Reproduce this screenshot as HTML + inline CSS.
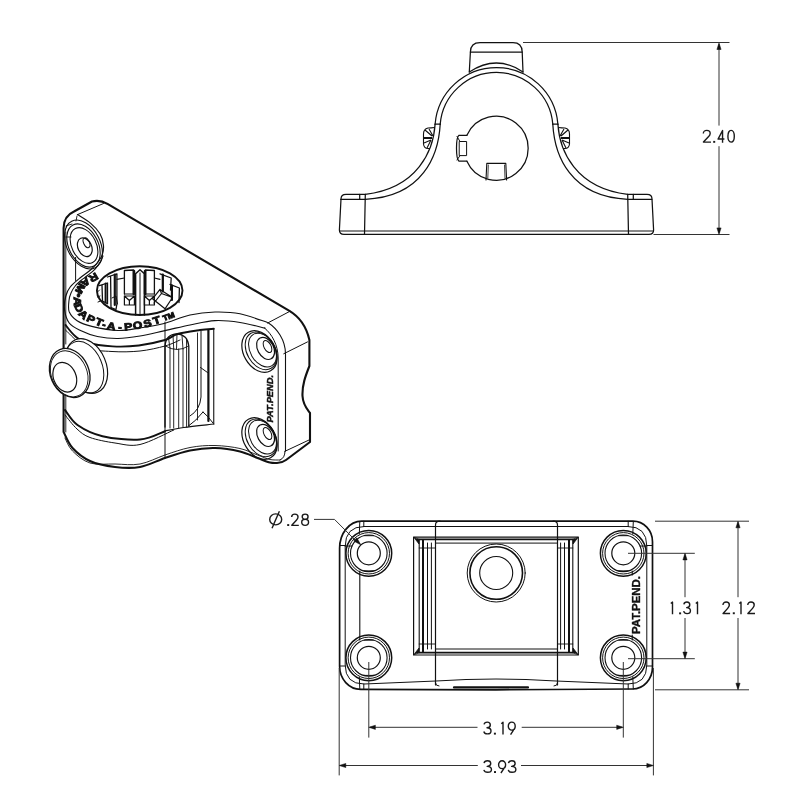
<!DOCTYPE html>
<html><head><meta charset="utf-8">
<style>
html,body{margin:0;padding:0;background:#fff;}
svg{display:block;filter:grayscale(1);}
text{font-family:"Liberation Sans",sans-serif;}
</style></head><body>
<svg width="800" height="800" viewBox="0 0 800 800">
<g fill="none" stroke="#111" stroke-width="1.25" stroke-linecap="round" stroke-linejoin="round">
<!-- cap -->
<path d="M469.3 72 L470.4 52 Q470.6 42.7 480 42.7 L513 42.7 Q522 42.7 522.2 52 L523 72"/>
<path d="M470.4 52 L522.2 52"/>
<path d="M469.3 72 Q496.5 54 523 72"/>
<!-- outer ring arc -->
<path d="M435.1 124.2 A61.6 61.6 0 0 1 557.9 124.2"/>
<path d="M440.2 124.2 A56.5 56.5 0 0 1 552.8 124.2"/>
<!-- concave lower -->
<path d="M435.1 124.2 C433.5 150 418 188 365.3 194.3"/>
<path d="M440.2 124.2 C438.5 155 423 197 365.3 199.3"/>
<path d="M557.9 124.2 C559.5 150 575 188 627.7 194.3"/>
<path d="M552.8 124.2 C554.5 155 570 197 627.7 199.3"/>
<path d="M435.1 124.2 L440.2 124.2 M552.8 124.2 L557.9 124.2"/>
<!-- base -->
<path d="M365.3 194.3 L346 194.3 Q341 194.3 341 199 L339.4 230 Q339.4 234.4 344 234.4 L649 234.4 Q653.6 234.4 653.6 230 L652 199 Q652 194.3 647 194.3 L627.7 194.3"/>
<path d="M340.7 199.3 L365.3 199.3 M627.7 199.3 L651.8 199.3"/>
<path d="M359.7 194.3 L359.7 199.3 M633.3 194.3 L633.3 199.3"/>
<path d="M365.3 194.3 L364.5 234.4 M627.7 194.3 L628.5 234.4"/>
<path d="M339.6 231 L653.4 231" stroke-width="1.0"/>
<!-- hole -->
<path d="M466.9 135.3 A32 32 0 1 1 466.9 161.2"/>
<path d="M466.9 135.3 L459 135.3 Q456.5 137 456.5 148.2 Q456.5 159.5 459 161.2 L466.9 161.2"/>
<path d="M459.6 141.5 L466.6 141.5 L466.6 155.6 L459.6 155.6 Z" stroke-width="1"/>
<path d="M457 136.5 L460 141.5 M457 160 L460 155.6" stroke-width="1"/>
<path d="M486 180 L486.8 163.4 L505.8 163.4 L506.6 180" stroke-width="1.1"/>
<path d="M487.8 178 L488.3 165 M504.5 165 L505 178" stroke-width="0.8"/>
</g>
<!-- knobs -->
<g fill="none" stroke="#111" stroke-width="1.1" stroke-linejoin="round">
<path d="M434.5 127.5 Q431 128 428 128 Q423.5 129 423.5 134 L423.5 144 Q424 148.5 428 148.5 L430 148.5"/>
<path d="M424 137.5 L432 137.5 M424 138.5 L432 138.5 M425 130 L432 136 M429 129 L433 136 M424 143 L431 140 M427 148 L431 140"/>
<path d="M558.5 127.5 Q562 128 565 128 Q569.5 129 569.5 134 L569.5 144 Q569 148.5 565 148.5 L563 148.5"/>
<path d="M569 137.5 L561 137.5 M569 138.5 L561 138.5 M568 130 L561 136 M564 129 L560 136 M569 143 L562 140 M566 148 L562 140"/>
</g>
<g fill="none" stroke="#333" stroke-width="1">
<path d="M523 42.5 L729.5 42.5 M653.5 234.5 L729.5 234.5"/>
<path d="M719 44 L719 125.6 M719 146.2 L719 233"/>
</g>
<g fill="#111" stroke="#111" stroke-width="0.5" stroke-linejoin="round">
<path d="M719.00 42.90 L716.90 49.50 L721.10 49.50 Z"/>
<path d="M719.00 234.50 L721.10 227.90 L716.90 227.90 Z"/>
</g>

<defs>
<g id="bolt">
<circle r="11.5" stroke-width="1.2"/>
<circle r="18.3" stroke-width="1.1"/>
<circle r="20.7" stroke-width="1.0"/>
<circle r="22.9" stroke-width="1.5"/>
<path d="M-5 -17.6 L5 -17.6 M-5 17.6 L5 17.6" stroke-width="1.0"/>
</g>
</defs>
<g fill="none" stroke="#111" stroke-width="1.2" stroke-linecap="round" stroke-linejoin="round">
<!-- outer outline -->
<path d="M361.6 521.2 L633 521.2 A19.5 20.5 0 0 1 652.5 541.7 L652.5 667 A20 22 0 0 1 632.5 689 L496 689.8 L360.6 689.3 A21 23 0 0 1 339.6 666.3 L339.6 548.2 A22 27 0 0 1 361.6 521.2 Z" stroke-width="1.7"/>
<!-- inner outline -->
<path d="M363.8 526.5 L628.2 526.5"/>
<path d="M345.2 546 Q345.2 526.5 364 526.5 M345.2 546 L345.2 665 Q345.2 684 364 684 L436 681 Q496 677 556 681 L628 684 Q646.8 684 646.8 665 L646.8 546 Q646.8 526.5 628 526.5" stroke-width="1"/>
<path d="M363.8 521.2 L363.8 526.5 M628.2 521.2 L628.2 526.5 M345.2 546 L352 546 M646.8 546 L640 546 M363.8 684 L363.8 689 M628.2 684 L628.2 689" stroke-width="1"/>
<path d="M359.8 571 L359.8 640 M632.2 571 L632.2 575 M632.2 635 L632.2 640" stroke-width="1.1"/>
<path d="M359.3 534 L359.8 521.5 M632.8 534 L633.3 521.5 M359.3 677 L359.8 689 M632.8 677 L633.3 689 M340.3 545.5 L345.2 545.5 M646.8 545.5 L652 545.5 M340.3 666 L345.2 666 M646.8 666 L652 666" stroke-width="1.0"/>
<!-- center band -->
<path d="M435.5 685 L435.5 525 Q435.5 521.2 440 521.2 M557.5 685 L557.5 525 Q557.5 521.2 553 521.2"/>
<path d="M435.5 683 Q435.5 686 439 686 M557.5 683 Q557.5 686 554 686" stroke-width="1"/>
<path d="M454 687.4 L528 687.4" stroke-width="2.2"/>
<!-- rectangles -->
<path d="M413.6 537.1 L578.3 537.1 L578.3 655 L413.6 655 Z"/>
<path d="M419.2 539.4 L572.8 539.4 M419.2 652.6 L572.8 652.6" stroke-width="1.9"/>
<path d="M435.5 543.1 L557.5 543.1 M435.5 649 L557.5 649" stroke-width="1"/>
<path d="M419.2 539.4 L419.2 652.6 M572.8 539.4 L572.8 652.6" stroke-width="1.1"/>
<path d="M423 540 L423 652 M569 540 L569 652" stroke-width="2"/>
<path d="M427.5 543 L427.5 649 M431.4 543 L431.4 649 M564.5 543 L564.5 649 M560.6 543 L560.6 649" stroke-width="1"/>
<path d="M419.2 548 L435.5 548 M419.2 644 L435.5 644 M557.5 548 L572.8 548 M557.5 644 L572.8 644" stroke-width="0.9"/>
<path d="M414 537.5 L419 544 L419 539.4 Z M578 537.5 L573 544 L573 539.4 Z M414 654.5 L419 648 L419 652.6 Z M578 654.5 L573 648 L573 652.6 Z" fill="#111" stroke-width="0.8"/>
<!-- center circles -->
<circle cx="496.2" cy="573" r="29" stroke-width="1"/>
<circle cx="496.2" cy="573" r="26.3" stroke-width="1.6"/>
<circle cx="496.2" cy="573" r="16.5" stroke-width="1.1"/>
</g>
<g fill="none" stroke="#111">
<use href="#bolt" x="368.8" y="553.3"/>
<use href="#bolt" x="368.8" y="657.8"/>
<use href="#bolt" x="623.3" y="553.3"/>
<use href="#bolt" x="623.3" y="657.8"/>
</g>
<!-- dims -->
<g fill="none" stroke="#333" stroke-width="1">
<path d="M314 519.4 L334.5 519.4 L356 541"/>
<path d="M368.8 662 L368.8 737.6 M623.3 662 L623.3 737.6"/>
<path d="M339.2 668 L339.2 775.4 M653.4 668 L653.4 775.4"/>
<path d="M370 727.3 L477.5 727.3 M521.7 727.3 L622 727.3"/>
<path d="M340.4 765.5 L477.8 765.5 M521 765.5 L652.2 765.5"/>
<path d="M628 553.3 L694.8 553.3 M628 658.7 L694.8 658.7"/>
<path d="M685 554.5 L685 597.2 M685 618 L685 657.5"/>
<path d="M655 521.2 L749 521.2 M655 689.8 L749 689.8"/>
<path d="M738 522.4 L738 597.2 M738 618 L738 688.6"/>
</g>
<g fill="#111" stroke="#111" stroke-width="0.5" stroke-linejoin="round">
<path d="M361.00 545.00 L356.77 537.86 L353.72 541.02 Z"/>
<path d="M368.80 727.30 L375.40 729.40 L375.40 725.20 Z"/>
<path d="M623.30 727.30 L616.70 725.20 L616.70 729.40 Z"/>
<path d="M339.20 765.50 L345.80 767.60 L345.80 763.40 Z"/>
<path d="M653.40 765.50 L646.80 763.40 L646.80 767.60 Z"/>
<path d="M685.00 553.30 L682.90 559.90 L687.10 559.90 Z"/>
<path d="M685.00 658.70 L687.10 652.10 L682.90 652.10 Z"/>
<path d="M738.00 521.20 L735.90 527.80 L740.10 527.80 Z"/>
<path d="M738.00 689.80 L740.10 683.20 L735.90 683.20 Z"/>
</g>
<text transform="translate(639.8,605) rotate(-90)" font-size="11.4" font-weight="bold" text-anchor="middle" fill="#111" stroke="#111" stroke-width="0.35" textLength="58" lengthAdjust="spacingAndGlyphs">PAT.PEND.</text>

<g fill="none" stroke="#111" stroke-linecap="round" stroke-linejoin="round">
<path d="M63.6 432 L63.6 228 Q63.8 216 74 211.5 L92 201.5 Q100 199.5 107.5 203.9 L289 310.6 Q305 320 309.4 340 L309.4 366 C305.5 376 302 385 302.5 396 C303 405 307 409 310 413 L310 442 L286 460 Q282 463 277 463  C275.8 462.9 273.2 463.3 270.0 462.5 C266.8 461.7 262.5 459.8 257.5 458.0 C252.5 456.2 247.1 453.2 240.0 451.5 C232.9 449.8 223.3 448.2 215.0 448.0 C206.7 447.8 198.3 448.8 190.0 450.5 C181.7 452.2 173.3 455.2 165.0 458.0 C156.7 460.8 148.3 465.5 140.0 467.0 C131.7 468.5 123.3 468.0 115.0 467.0 C106.7 466.0 97.1 464.2 90.0 461.0 C82.9 457.8 76.9 452.8 72.5 448.0 C68.1 443.2 65.1 434.7 63.6 432.0" stroke-width="2.1" />
<path d="M65.8 232 L65.8 344 M65.8 394 L65.8 432" stroke-width="0.9" />
<path d="M77.5 214.6 L103.5 203.5" stroke-width="1.0" />
<path d="M77.5 214.6 C79.8 216.1 87.2 220.4 91.0 223.6 C94.8 226.8 97.9 230.2 100.0 233.8 C102.1 237.3 103.0 241.5 103.4 245.0 C103.8 248.5 103.2 252.1 102.2 255.0 C101.3 257.9 99.5 260.0 97.5 262.5 C95.5 265.0 93.4 267.4 90.5 270.0 C87.6 272.6 83.4 275.2 80.0 278.0 C76.6 280.8 72.6 284.0 70.2 287.0 C67.8 290.0 66.8 292.2 65.8 296.0 C64.8 299.8 63.9 305.0 64.5 309.5 C65.1 314.0 66.6 319.5 69.2 323.0 C71.9 326.5 75.8 328.2 80.5 330.5 C85.2 332.8 91.2 335.2 97.4 336.5 C103.7 337.8 110.9 338.6 118.0 338.5 C125.1 338.4 132.2 337.3 140.0 336.0 C147.8 334.7 156.7 332.4 165.0 330.6 C173.3 328.8 181.7 326.7 190.0 325.0 C198.3 323.3 206.7 321.0 215.0 320.6 C223.3 320.2 231.7 321.2 240.0 322.5 C248.3 323.8 260.8 327.2 265.0 328.1" stroke-width="1.2" />
<path d="M103.0 256.0 C102.6 256.8 102.1 258.9 100.8 261.0 C99.5 263.1 97.5 266.4 95.3 268.8 C93.1 271.2 90.3 273.3 87.8 275.3 C85.3 277.3 82.5 279.1 80.3 281.0 C78.1 282.9 76.3 284.5 74.8 286.5 C73.2 288.5 72.0 290.7 71.0 293.0 C70.0 295.3 69.3 297.4 69.0 300.5 C68.7 303.6 67.9 308.4 69.2 311.8 C70.6 315.1 73.3 318.3 77.1 320.8 C80.8 323.2 84.9 324.8 91.8 326.4 C98.6 328.0 110.0 330.2 118.0 330.5 C126.0 330.8 132.5 329.1 140.0 328.0 C147.5 326.9 154.7 325.9 163.0 323.8 C171.3 321.6 181.3 317.0 190.0 315.0 C198.7 313.0 206.7 312.2 215.0 312.0 C223.3 311.8 231.2 312.0 240.0 313.8 C248.8 315.5 262.9 321.0 267.5 322.5" stroke-width="1.1" />
<path d="M75.6 257.4 L75.6 280.5" stroke-width="1.0" />
<path d="M65.5 325.0 C67.1 326.8 71.5 333.1 75.0 336.0 C78.5 338.9 80.0 340.8 86.2 342.5 C92.5 344.2 103.8 345.9 112.5 346.4 C121.2 346.9 130.0 346.6 138.8 345.5 C147.5 344.4 158.5 341.9 165.0 340.0 C171.5 338.1 171.7 335.7 177.5 334.0 C183.3 332.3 194.0 330.9 200.0 330.0 C206.0 329.1 211.5 329.0 213.8 328.8" stroke-width="1.9" />
<path d="M65.5 330.0 C68.9 332.9 78.2 343.9 86.0 347.5 C93.8 351.1 103.0 350.9 112.0 351.5 C121.0 352.1 131.2 351.9 140.0 351.0 C148.8 350.1 158.3 347.8 165.0 346.0 C171.7 344.2 177.5 341.0 180.0 340.0" stroke-width="1.0" />
<path d="M165 322 L165 457.5" stroke-width="1.0" />
<path d="M213.75 328.75 L213.75 424" stroke-width="1.1" />
<path d="M208.4 330 L208.4 421" stroke-width="2.2" />
<path d="M201 331 L201 397 Q200 410 190 416" stroke-width="1.0" />
<path d="M200.5 367.5 L207.5 372.5" stroke-width="1.0" />
<path d="M165.0 431.0 C168.1 430.4 175.6 428.7 183.8 427.5 C191.9 426.3 208.8 424.6 213.8 424.0" stroke-width="1.2" />
<path d="M188.5 426 Q196 421 203 412 M203 412 Q208 416 213 423" stroke-width="1.0" />
<path d="M165 427 L165 346 Q166 334 177 333.8 Q187.5 334.5 188.8 346 L188.8 426" stroke-width="1.3" />
<path d="M170 348 L170 428 M173.7 349 L173.7 428 M178.7 349 L178.7 428 M183 349 L183 427 M186.6 348 L186.6 427" stroke-width="0.9" />
<path d="M165.5 346 Q171 349.5 177 349.5 Q183 349.5 188.5 346 M168.5 338 L170 348 M177 334 L176.5 349 M173 335 L173.7 349 M182 335.5 L183 349 M186.5 339 L186.6 348" stroke-width="0.9" />
<path d="M197.5 333 L197.5 420" stroke-width="0.9" />
<path d="M65.0 410.0 C67.1 412.5 71.2 420.6 77.5 425.0 C83.8 429.4 92.1 433.8 102.5 436.2 C112.9 438.7 129.6 440.3 140.0 439.5 C150.4 438.7 160.8 432.6 165.0 431.2" stroke-width="2.0" />
<path d="M65.0 415.0 C67.0 417.3 72.8 425.2 77.0 429.0 C81.2 432.8 83.7 435.2 90.0 437.5 C96.3 439.8 106.7 441.8 115.0 443.0 C123.3 444.2 130.2 446.7 140.0 444.5 C149.8 442.3 168.1 432.4 173.8 430.0" stroke-width="1.0" />
<path d="M65.0 438.0 C66.2 440.2 68.3 446.8 72.5 451.0 C76.7 455.2 82.9 460.8 90.0 463.0 C97.1 465.2 106.7 463.8 115.0 464.0 C123.3 464.2 131.7 465.5 140.0 464.0 C148.3 462.5 156.7 457.8 165.0 455.0 C173.3 452.2 181.7 449.1 190.0 447.5 C198.3 445.9 206.7 445.3 215.0 445.5 C223.3 445.7 232.9 446.9 240.0 448.5 C247.1 450.1 252.5 453.2 257.5 455.0 C262.5 456.8 266.2 458.7 270.0 459.5 C273.8 460.3 278.3 459.9 280.0 460.0" stroke-width="0.9" />
<path d="M290 311.25 L267.5 323.1" stroke-width="1.0" />
<path d="M268.5 323 C277 328.5 285.5 340 285.5 354 L285.5 451" stroke-width="1.1" />
<path d="M264.5 328 C272 334 278 345 278.2 358 L278.2 451" stroke-width="1.0" />
<path d="M307.5 341.9 L283.75 353.75 M309 440 L285 451.25 M285 451.25 Q285 458 280 460" stroke-width="1.0" />
</g><g fill="none" stroke="#111" stroke-linecap="round" stroke-linejoin="round">
<ellipse cx="86.5" cy="366.0" rx="19.5" ry="28.5" transform="rotate(-23.0 86.5 366.0)" stroke-width="1.2" fill="#fff"/>
<ellipse cx="84.3" cy="367.2" rx="17.8" ry="27.0" transform="rotate(-23.0 84.3 367.2)" stroke-width="1.0" fill="none"/>
<ellipse cx="69.7" cy="373.0" rx="19.3" ry="25.3" transform="rotate(-23.0 69.7 373.0)" stroke-width="1.3" fill="#fff"/>
<ellipse cx="69.2" cy="373.8" rx="17.8" ry="23.8" transform="rotate(-23.0 69.2 373.8)" stroke-width="0.9" fill="none"/>
<ellipse cx="64.8" cy="377.2" rx="11.2" ry="15.4" transform="rotate(-23.0 64.8 377.2)" stroke-width="1.2" fill="none"/>
<ellipse cx="83.5" cy="244.5" rx="16.6" ry="26.0" transform="rotate(-27.0 83.5 244.5)" stroke-width="1.1" fill="none"/>
<ellipse cx="83.5" cy="245.5" rx="14.6" ry="23.0" transform="rotate(-27.0 83.5 245.5)" stroke-width="1.1" fill="none"/>
<ellipse cx="84.0" cy="245.5" rx="12.2" ry="19.0" transform="rotate(-27.0 84.0 245.5)" stroke-width="1.1" fill="none"/>
<ellipse cx="84.8" cy="247.2" rx="6.8" ry="9.8" transform="rotate(-25.0 84.8 247.2)" stroke-width="1.2" fill="none"/>
<ellipse cx="86.5" cy="242.8" rx="2.8" ry="5.2" transform="rotate(-25.0 86.5 242.8)" stroke-width="1.0" fill="none"/>
<path d="M65.8 237 L71 237 M66 226 L72 224 M76 221 L77 216" stroke-width="0.9" />
<ellipse cx="139.7" cy="290.6" rx="42.8" ry="24.4" transform="rotate(0.0 139.7 290.6)" stroke-width="1.9" fill="#fff"/>
<path d="M135.6 315 L135.6 273.8 L140 269.8 L144.4 273.8 L144.4 315" stroke-width="1.5" />
<path d="M140 273 L140 315" stroke-width="1.0" />
<path d="M124.4 294 L124.4 270.5 L133.5 270 L134.6 271 L134.6 294" stroke-width="1.3" />
<path d="M133.7 271 L133.7 294" stroke-width="2.4" />
<path d="M124.4 294 L134.6 294" stroke-width="1.0" />
<path d="M124.4 296 L134.4 296 L134.4 305 L124.4 305 Z M124.4 296 L129.4 300.5 L134.4 296 M129.4 300.5 L129.4 305" stroke-width="1.2" />
<path d="M144.4 294 L144.4 271 L145.5 270 L154.4 270.5 L154.4 294" stroke-width="1.3" />
<path d="M145.3 271 L145.3 294" stroke-width="2.4" />
<path d="M144.4 294 L154.4 294" stroke-width="1.0" />
<path d="M144.4 296 L154.4 296 L154.4 305 L144.4 305 Z M144.4 296 L149.4 300.5 L154.4 296 M149.4 300.5 L149.4 305" stroke-width="1.2" />
<path d="M107.5 277 L116.9 273.8 L116.9 304 M110.6 277 L111 307.5 L116 309.5 L116.9 304" stroke-width="1.3" />
<path d="M114.8 274.5 L114.8 305" stroke-width="2.2" />
<path d="M112 298 L116 296 L117.5 304" stroke-width="1.0" />
<path d="M99.4 285.6 L107.5 283 L107.5 303.8 M102 285 L102.5 301 L107.5 303.8" stroke-width="1.3" />
<path d="M105.6 283.6 L105.6 302.5" stroke-width="2.0" />
<path d="M160 273.8 L171.2 278 L170.5 290 M162.8 274.5 L162.8 292" stroke-width="1.3" />
<path d="M162.8 274.5 L162.8 291" stroke-width="2.2" />
<path d="M170 284.4 L179.4 288 L179 302.5 M171.5 285 L171.5 300" stroke-width="1.3" />
<path d="M172 285.5 L172 300" stroke-width="2.0" />
<path d="M152.5 298.8 L160 289.4 L172.5 297.5 L165 308.8 Z M160 289.4 L161.5 293.5 L172.5 297.5 M161.5 293.5 L154 303" stroke-width="1.2" />
<path d="M116.9 279.4 L124.4 278 M154.4 278 L160 279.4" stroke-width="1.1" />
<path d="M97.5 292 L99.5 290 M97.5 297 L100 296 M98 302 L100.5 301" stroke-width="1.0" />
<ellipse cx="259.5" cy="351.5" rx="15.8" ry="22.3" transform="rotate(-30.0 259.5 351.5)" stroke-width="1.2" fill="none"/>
<ellipse cx="261.0" cy="350.8" rx="14.0" ry="20.2" transform="rotate(-30.0 261.0 350.8)" stroke-width="1.0" fill="none"/>
<ellipse cx="262.5" cy="350.1" rx="12.2" ry="18.2" transform="rotate(-30.0 262.5 350.1)" stroke-width="1.0" fill="none"/>
<ellipse cx="265.6" cy="348.4" rx="8.0" ry="11.8" transform="rotate(-28.0 265.6 348.4)" stroke-width="1.2" fill="none"/>
<ellipse cx="267.5" cy="346.5" rx="3.5" ry="6.5" transform="rotate(-28.0 267.5 346.5)" stroke-width="1.0" fill="none"/>
<ellipse cx="259.5" cy="438.5" rx="15.8" ry="22.3" transform="rotate(-30.0 259.5 438.5)" stroke-width="1.2" fill="none"/>
<ellipse cx="261.0" cy="437.8" rx="14.0" ry="20.2" transform="rotate(-30.0 261.0 437.8)" stroke-width="1.0" fill="none"/>
<ellipse cx="262.5" cy="437.1" rx="12.2" ry="18.2" transform="rotate(-30.0 262.5 437.1)" stroke-width="1.0" fill="none"/>
<ellipse cx="265.6" cy="435.4" rx="8.0" ry="11.8" transform="rotate(-28.0 265.6 435.4)" stroke-width="1.2" fill="none"/>
<ellipse cx="267.5" cy="433.5" rx="3.5" ry="6.5" transform="rotate(-28.0 267.5 433.5)" stroke-width="1.0" fill="none"/>
</g>
<g font-weight="bold" fill="#111" stroke="#111" stroke-width="0.9" text-anchor="middle">
<text transform="translate(93.50 277.50) rotate(149.6) scale(1.18 1)" y="3.5" font-size="10.2">R</text>
<text transform="translate(85.50 282.20) rotate(139.9) scale(1.18 1)" y="3.5" font-size="10.2">A</text>
<text transform="translate(80.30 288.60) rotate(117.6) scale(1.18 1)" y="3.5" font-size="10.2">M</text>
<text transform="translate(78.60 295.40) rotate(102.9) scale(1.18 1)" y="3.5" font-size="10.2">•</text>
<text transform="translate(77.40 301.30) rotate(88.6) scale(1.18 1)" y="3.5" font-size="10.2">A</text>
<text transform="translate(78.90 307.90) rotate(65.7) scale(1.18 1)" y="3.5" font-size="10.2">D</text>
<text transform="translate(83.40 314.60) rotate(42.5) scale(1.18 1)" y="3.5" font-size="10.2">A</text>
<text transform="translate(91.00 319.00) rotate(25.5) scale(1.18 1)" y="3.5" font-size="10.2">P</text>
<text transform="translate(99.30 322.20) rotate(22.8) scale(1.18 1)" y="3.5" font-size="10.2">T</text>
<text transform="translate(104.30 324.60) rotate(18.6) scale(1.00 1)" y="3.5" font-size="10.2">-</text>
<text transform="translate(111.20 326.20) rotate(8.7) scale(1.18 1)" y="3.5" font-size="10.2">A</text>
<text transform="translate(120.00 327.00) rotate(1.3) scale(1.00 1)" y="3.5" font-size="10.2">-</text>
<text transform="translate(128.20 326.60) rotate(-5.2) scale(1.18 1)" y="3.5" font-size="10.2">P</text>
<text transform="translate(137.60 325.40) rotate(-9.5) scale(1.18 1)" y="3.5" font-size="10.2">O</text>
<text transform="translate(147.40 323.40) rotate(-14.7) scale(1.18 1)" y="3.5" font-size="10.2">S</text>
<text transform="translate(156.60 320.40) rotate(-18.1) scale(1.18 1)" y="3.5" font-size="10.2">T</text>
<text transform="translate(168.5 316.2) rotate(-21) scale(1.1 1)" y="2.8" font-size="7.6">TM</text>
</g>
<text transform="translate(273.4,398.7) rotate(-90)" font-size="8.6" font-weight="bold" font-style="italic" text-anchor="middle" fill="#111" stroke="#111" stroke-width="0.45" textLength="47.5" lengthAdjust="spacingAndGlyphs">PAT.PEND.</text>
<g fill="none" stroke="#1a1a1a" stroke-width="1.4" stroke-linecap="butt" stroke-linejoin="round">
<path transform="translate(702.50 129.70) scale(1.0366 1.0077)" d="M0.8 3.7 C0.8 1.8 2.3 0.7 4.1 0.7 C6 0.7 7.4 1.9 7.4 3.7 C7.4 5 6.8 5.9 5.7 7.1 L0.9 12.3 L8.2 12.3" vector-effect="non-scaling-stroke"/>
<rect fill="#1a1a1a" stroke="none" x="713.20" y="140.90" width="2.00" height="1.90"/>
<path transform="translate(717.40 129.70) scale(0.9722 1.0077)" d="M5.3 13 L5.3 0.8 L0.7 9.3 L7.2 9.3" vector-effect="non-scaling-stroke"/>
<path transform="translate(727.20 129.70) scale(1.0000 1.0077)" d="M3.9 0.7 C5.9 0.7 7.1 3.2 7.1 6.5 C7.1 9.8 5.9 12.3 3.9 12.3 C1.9 12.3 0.7 9.8 0.7 6.5 C0.7 3.2 1.9 0.7 3.9 0.7 Z" vector-effect="non-scaling-stroke"/>
<path transform="translate(670.30 601.30) scale(1.0000 1.0000)" d="M0.5 2.3 L2.2 0.8 L2.2 13" vector-effect="non-scaling-stroke"/>
<rect fill="#1a1a1a" stroke="none" x="679.10" y="612.40" width="2.00" height="1.90"/>
<path transform="translate(683.00 601.30) scale(0.9419 1.0000)" d="M0.9 3.0 C1.2 1.6 2.5 0.7 4.1 0.7 C5.9 0.7 7.2 1.8 7.2 3.5 C7.2 5.1 6.0 6.2 3.9 6.3 C6.3 6.4 7.9 7.7 7.9 9.4 C7.9 11.2 6.3 12.3 4.3 12.3 C2.5 12.3 1.1 11.4 0.7 9.9" vector-effect="non-scaling-stroke"/>
<path transform="translate(695.30 601.30) scale(1.0000 1.0000)" d="M0.5 2.3 L2.2 0.8 L2.2 13" vector-effect="non-scaling-stroke"/>
<path transform="translate(722.20 601.30) scale(0.9634 0.9923)" d="M0.8 3.7 C0.8 1.8 2.3 0.7 4.1 0.7 C6 0.7 7.4 1.9 7.4 3.7 C7.4 5 6.8 5.9 5.7 7.1 L0.9 12.3 L8.2 12.3" vector-effect="non-scaling-stroke"/>
<rect fill="#1a1a1a" stroke="none" x="732.80" y="612.30" width="2.00" height="1.90"/>
<path transform="translate(738.80 601.30) scale(1.0000 0.9923)" d="M0.5 2.3 L2.2 0.8 L2.2 13" vector-effect="non-scaling-stroke"/>
<path transform="translate(747.00 601.30) scale(0.9756 0.9923)" d="M0.8 3.7 C0.8 1.8 2.3 0.7 4.1 0.7 C6 0.7 7.4 1.9 7.4 3.7 C7.4 5 6.8 5.9 5.7 7.1 L0.9 12.3 L8.2 12.3" vector-effect="non-scaling-stroke"/>
<path transform="translate(483.10 721.40) scale(1.0000 1.0154)" d="M0.9 3.0 C1.2 1.6 2.5 0.7 4.1 0.7 C5.9 0.7 7.2 1.8 7.2 3.5 C7.2 5.1 6.0 6.2 3.9 6.3 C6.3 6.4 7.9 7.7 7.9 9.4 C7.9 11.2 6.3 12.3 4.3 12.3 C2.5 12.3 1.1 11.4 0.7 9.9" vector-effect="non-scaling-stroke"/>
<rect fill="#1a1a1a" stroke="none" x="493.90" y="732.70" width="2.00" height="1.90"/>
<path transform="translate(500.80 721.40) scale(1.0000 1.0154)" d="M0.5 2.3 L2.2 0.8 L2.2 13" vector-effect="non-scaling-stroke"/>
<path transform="translate(507.60 721.40) scale(0.9881 1.0154)" d="M4.2 0.7 C6.2 0.7 7.7 2.5 7.7 4.7 C7.7 6.9 6.2 8.6 4.2 8.6 C2.2 8.6 0.7 6.9 0.7 4.7 C0.7 2.5 2.2 0.7 4.2 0.7 Z M7.3 6.6 L3.0 13" vector-effect="non-scaling-stroke"/>
<path transform="translate(483.10 760.10) scale(1.0581 0.9923)" d="M0.9 3.0 C1.2 1.6 2.5 0.7 4.1 0.7 C5.9 0.7 7.2 1.8 7.2 3.5 C7.2 5.1 6.0 6.2 3.9 6.3 C6.3 6.4 7.9 7.7 7.9 9.4 C7.9 11.2 6.3 12.3 4.3 12.3 C2.5 12.3 1.1 11.4 0.7 9.9" vector-effect="non-scaling-stroke"/>
<rect fill="#1a1a1a" stroke="none" x="494.00" y="771.10" width="2.00" height="1.90"/>
<path transform="translate(497.90 760.10) scale(1.0000 0.9923)" d="M4.2 0.7 C6.2 0.7 7.7 2.5 7.7 4.7 C7.7 6.9 6.2 8.6 4.2 8.6 C2.2 8.6 0.7 6.9 0.7 4.7 C0.7 2.5 2.2 0.7 4.2 0.7 Z M7.3 6.6 L3.0 13" vector-effect="non-scaling-stroke"/>
<path transform="translate(507.50 760.10) scale(1.0581 0.9923)" d="M0.9 3.0 C1.2 1.6 2.5 0.7 4.1 0.7 C5.9 0.7 7.2 1.8 7.2 3.5 C7.2 5.1 6.0 6.2 3.9 6.3 C6.3 6.4 7.9 7.7 7.9 9.4 C7.9 11.2 6.3 12.3 4.3 12.3 C2.5 12.3 1.1 11.4 0.7 9.9" vector-effect="non-scaling-stroke"/>
<rect fill="#1a1a1a" stroke="none" x="287.20" y="524.10" width="2.00" height="1.90"/>
<path transform="translate(290.90 513.50) scale(0.9634 0.9615)" d="M0.8 3.7 C0.8 1.8 2.3 0.7 4.1 0.7 C6 0.7 7.4 1.9 7.4 3.7 C7.4 5 6.8 5.9 5.7 7.1 L0.9 12.3 L8.2 12.3" vector-effect="non-scaling-stroke"/>
<path transform="translate(301.00 513.50) scale(1.0061 0.9615)" d="M4.1 0.7 C5.8 0.7 7.0 1.8 7.0 3.3 C7.0 4.9 5.8 6.0 4.1 6.0 C2.4 6.0 1.2 4.9 1.2 3.3 C1.2 1.8 2.4 0.7 4.1 0.7 Z M4.1 6.0 C6.1 6.0 7.5 7.4 7.5 9.2 C7.5 11.0 6.1 12.3 4.1 12.3 C2.1 12.3 0.7 11.0 0.7 9.2 C0.7 7.4 2.1 6.0 4.1 6.0 Z" vector-effect="non-scaling-stroke"/>
<ellipse cx="275.7" cy="519.4" rx="6.0" ry="5.5"/>
<path d="M272.0 528.2 L279.4 511.2"/>
</g>

</svg>
</body></html>
